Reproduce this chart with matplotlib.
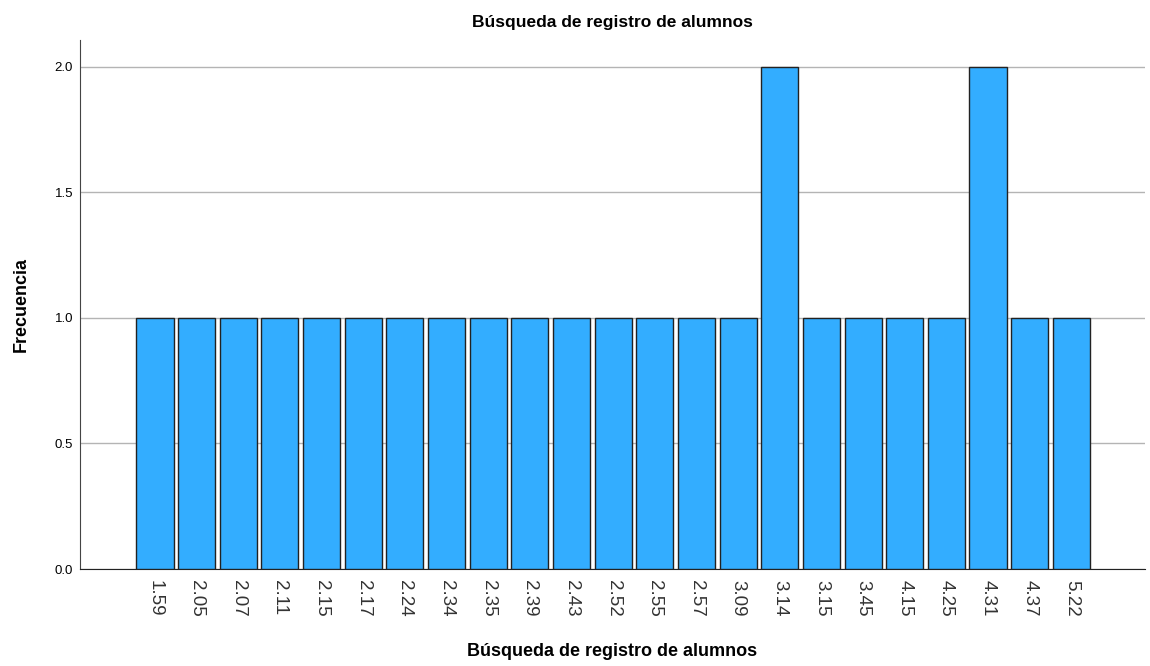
import matplotlib.pyplot as plt

plt.rcParams["font.family"] = ["Liberation Sans", "DejaVu Sans"]

categories = ["1.59", "2.05", "2.07", "2.11", "2.15", "2.17", "2.24", "2.34",
              "2.35", "2.39", "2.43", "2.52", "2.55", "2.57", "3.09", "3.14",
              "3.15", "3.45", "4.15", "4.25", "4.31", "4.37", "5.22"]
frecuencia = [1, 1, 1, 1, 1, 1, 1, 1, 1, 1, 1, 1, 1, 1, 1, 2, 1, 1, 1, 1, 2, 1, 1]

fig = plt.figure(figsize=(11.5, 6.66), dpi=100)
ax = fig.add_axes([0.0696, 0.1456, 0.9261, 0.7944])

x = list(range(len(categories)))
ax.bar(x, frecuencia, width=0.89, color="#33adff", edgecolor="#222222",
       linewidth=1.0, zorder=3)

ax.set_xlim(-1.8, len(categories) - 1 + 1.77)
ax.set_ylim(0, 2.107)
ax.set_yticks([0.0, 0.5, 1.0, 1.5, 2.0])
ax.set_yticklabels(["0.0", "0.5", "1.0", "1.5", "2.0"], fontsize=9.5)
ax.set_xticks(x)
ax.set_xticklabels(categories, rotation=-90, fontsize=13.5, color="#333333")
ax.tick_params(axis="both", length=0)
ax.tick_params(axis="x", pad=8)
ax.tick_params(axis="y", pad=5)

ax.yaxis.grid(True, color="#b4b4b4", linewidth=1.0, zorder=0)
for side in ["top", "right"]:
    ax.spines[side].set_visible(False)
ax.spines["left"].set_color("#444444")
ax.spines["bottom"].set_color("#222222")

ax.set_title("Búsqueda de registro de alumnos", fontsize=12.5, fontweight="bold", pad=9)
ax.set_ylabel("Frecuencia", fontsize=13, fontweight="bold", labelpad=18)
ax.set_xlabel("Búsqueda de registro de alumnos", fontsize=13, fontweight="bold", labelpad=19)

fig.savefig("out.png", dpi=100)
